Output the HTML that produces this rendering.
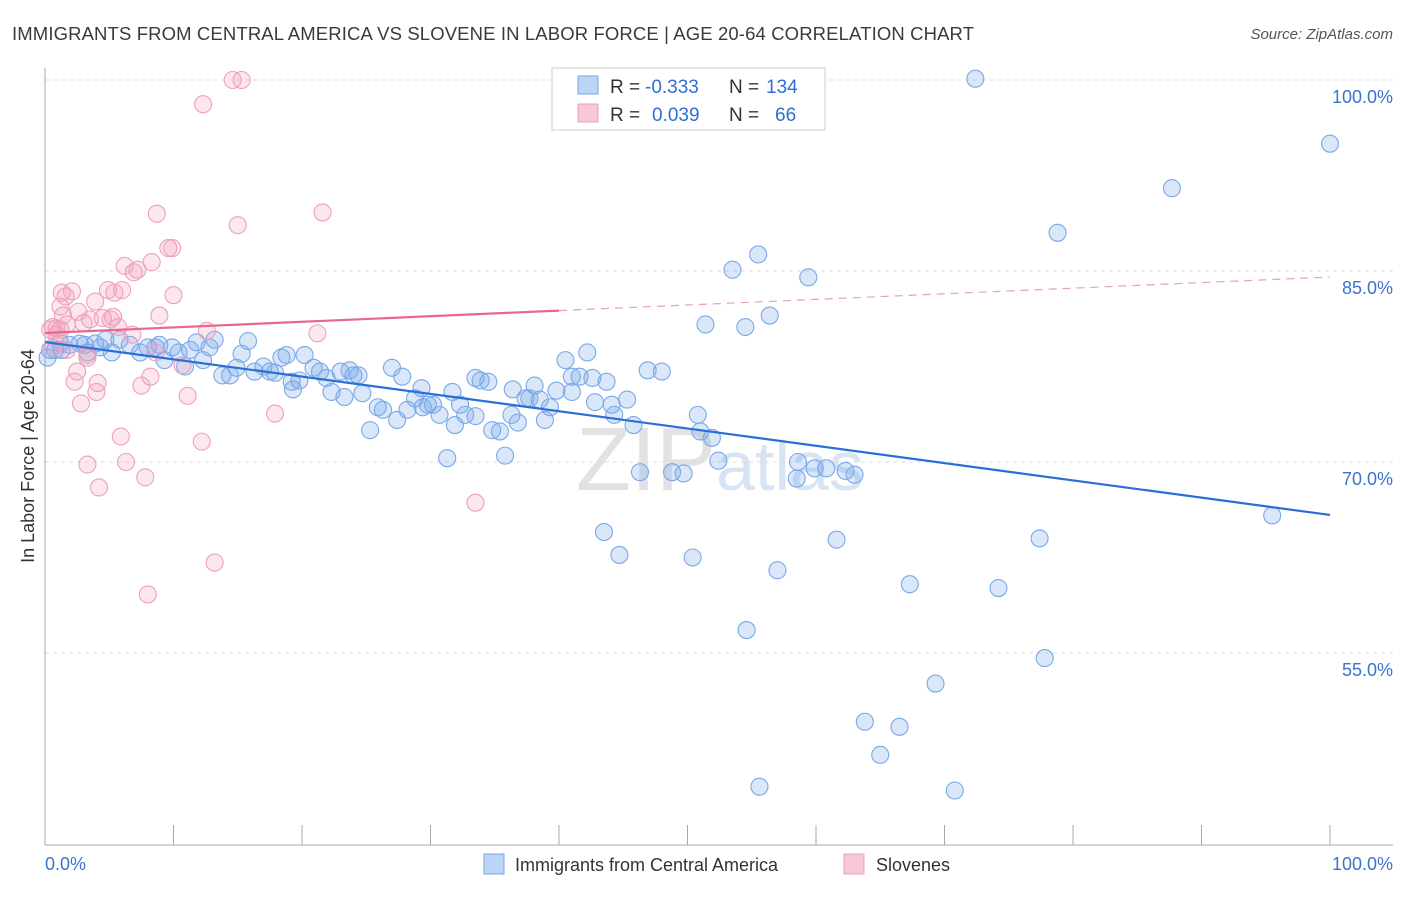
<!DOCTYPE html>
<html><head><meta charset="utf-8"><style>
body{margin:0;background:#fff;font-family:"Liberation Sans",sans-serif;}
svg text{font-family:"Liberation Sans",sans-serif;}
</style></head><body>
<svg id="chart" width="1406" height="892">
<text x="12" y="40" font-size="18.5" fill="#3a3a3a" textLength="962" lengthAdjust="spacing">IMMIGRANTS FROM CENTRAL AMERICA VS SLOVENE IN LABOR FORCE | AGE 20-64 CORRELATION CHART</text>
<text x="1393" y="39" font-size="15" fill="#555" font-style="italic" text-anchor="end">Source: ZipAtlas.com</text>
<text x="720" y="490" font-size="90" fill="#ddd" text-anchor="middle" font-family="Liberation Serif"><tspan fill="#e2e2e2">ZIP</tspan><tspan fill="#d7e4f3" font-family="Liberation Sans" font-size="70">atlas</tspan></text>
<g id="grid"></g><g id="axes"></g><g id="points"></g><g id="trends"></g>
<text transform="translate(34,456) rotate(-90)" font-size="18" fill="#333" text-anchor="middle">In Labor Force | Age 20-64</text>
<g>
<rect x="552" y="68" width="273" height="62" fill="#fff" stroke="#ccc"/>
<rect x="578" y="76" width="20" height="18" fill="#bcd5f5" stroke="#7aa8e8"/>
<rect x="578" y="104" width="20" height="18" fill="#f8c8d7" stroke="#eea0ba"/>
<text x="610" y="93" font-size="19" fill="#333">R =</text>
<text x="645" y="93" font-size="19" fill="#2f6fd0">-0.333</text>
<text x="729" y="93" font-size="19" fill="#333">N =</text>
<text x="766" y="93" font-size="19" fill="#2f6fd0">134</text>
<text x="610" y="121" font-size="19" fill="#333">R =</text>
<text x="652" y="121" font-size="19" fill="#2f6fd0">0.039</text>
<text x="729" y="121" font-size="19" fill="#333">N =</text>
<text x="775" y="121" font-size="19" fill="#2f6fd0">66</text>
</g>
<g>
<rect x="484" y="854" width="20" height="20" fill="#bcd5f5" stroke="#7aa8e8"/>
<text x="515" y="871" font-size="18" fill="#333">Immigrants from Central America</text>
<rect x="844" y="854" width="20" height="20" fill="#f8c8d7" stroke="#eea0ba"/>
<text x="876" y="871" font-size="18" fill="#333">Slovenes</text>
</g>
</svg>
<script>
const yTicks=[100,85,70,55];
const yTickLabels=["100.0%","85.0%","70.0%","55.0%"];
const xTickLabels=["0.0%","100.0%"];
const blueX=[0.2,0.8,1.3,1.9,2.7,3.3,3.9,4.7,5.2,5.8,6.6,7.4,8.0,8.6,8.9,9.3,9.9,10.4,10.9,11.3,11.8,12.3,12.8,13.2,13.8,14.4,14.9,15.3,15.8,16.3,17.0,17.5,17.9,18.4,18.8,19.3,19.8,20.2,20.9,21.4,21.9,22.3,23.0,23.3,24.0,24.4,24.7,25.3,25.9,26.3,27.0,27.4,27.8,28.2,28.8,29.3,29.8,30.2,30.7,31.3,31.7,32.3,32.7,33.5,33.9,34.5,34.8,35.4,35.8,36.3,36.8,37.4,37.7,38.1,38.5,38.9,39.3,39.8,40.5,41.0,41.6,42.2,42.8,43.5,43.7,44.3,44.7,45.3,45.8,46.3,46.9,48.0,48.8,49.7,50.4,50.8,51.0,51.9,51.4,52.4,53.5,54.5,54.6,55.5,55.6,56.4,57.0,58.6,58.5,59.4,59.9,60.8,61.6,62.3,63.0,63.8,65.0,66.5,67.3,69.3,70.8,72.4,74.2,77.4,77.8,78.8,87.7,95.5,100.0,48.2,0.4,1.2,3.1,4.3,19.2,23.7,29.4,31.9,33.5,36.4,41.0,42.6,44.1];
const blueY=[78.2,78.8,78.8,79.2,79.3,78.6,79.3,79.6,78.6,79.6,79.2,78.6,79.0,79.0,79.2,78.0,79.0,78.6,77.5,78.8,79.4,78.0,79.0,79.6,76.8,76.8,77.4,78.5,79.5,77.1,77.5,77.1,77.0,78.2,78.4,75.7,76.4,78.4,77.4,77.1,76.6,75.5,77.1,75.1,76.8,76.8,75.4,72.5,74.3,74.1,77.4,73.3,76.7,74.1,75.0,75.8,74.5,74.5,73.7,70.3,75.5,74.5,73.7,76.6,76.4,76.3,72.5,72.4,70.5,73.7,73.1,75.0,75.0,76.0,74.9,73.3,74.3,75.6,78.0,76.7,76.7,78.6,74.7,64.5,76.3,73.7,62.7,74.9,72.9,69.2,77.2,77.1,69.2,69.1,62.5,73.7,72.4,71.9,80.8,70.1,85.1,80.6,56.8,86.3,44.5,81.5,61.5,70.0,68.7,84.5,69.5,69.5,63.9,69.3,69.0,49.6,47.0,49.2,60.4,52.6,44.2,100.1,60.1,64.0,54.6,88.0,91.5,65.8,95.0,100.1,78.8,79.3,79.2,79.0,76.3,77.2,74.3,72.9,73.6,75.7,75.5,76.6,74.5];
const pinkX=[14.6,15.3,12.3,8.7,15.0,21.6,9.6,9.9,6.2,6.9,7.2,8.3,10.0,1.3,2.1,1.6,1.2,3.9,4.9,5.4,6.0,8.9,2.6,1.4,0.6,0.4,0.9,1.7,3.0,3.5,4.5,5.1,5.3,5.7,6.8,12.6,21.2,0.6,1.7,3.3,3.3,8.6,10.7,2.5,2.3,4.1,4.0,7.5,8.2,11.1,2.8,17.9,5.9,12.2,3.3,6.3,7.8,4.2,33.5,13.2,8.0,0.9,1.2];
const pinkY=[100.0,100.0,98.1,89.5,88.6,89.6,86.8,86.8,85.4,84.9,85.1,85.7,83.1,83.3,83.4,83.0,82.2,82.6,83.5,83.3,83.5,81.5,81.8,81.5,80.6,80.4,80.5,80.8,80.9,81.2,81.3,81.2,81.4,80.6,80.0,80.3,80.1,79.0,78.8,78.4,78.2,78.6,77.6,77.1,76.3,76.2,75.5,76.0,76.7,75.2,74.6,73.8,72.0,71.6,69.8,70.0,68.8,68.0,66.8,62.1,59.6,80.0,80.4];
const blueTrend=[79.42,65.84];
const pinkTrend=[80.13,84.53];
const NS="http://www.w3.org/2000/svg";
const X=v=>45+v*12.85;
const Y=v=>80+(100-v)*12.733;
function mk(tag,attrs,parent){const e=document.createElementNS(NS,tag);for(const k in attrs)e.setAttribute(k,attrs[k]);document.getElementById(parent).appendChild(e);return e;}
yTicks.forEach((t,i)=>{
 const l=mk('line',{x1:45,x2:1393,y1:Y(t),y2:Y(t),stroke:'#ddd','stroke-dasharray':'4,4'},'grid');
 
 
 const tx=mk('text',{x:1393,y:Y(t)+23,'font-size':18,fill:'#3b73d1','text-anchor':'end'},'grid');
 tx.textContent=yTickLabels[i];
 
 
});
const ya=mk('line',{x1:45,x2:45,y1:68,y2:845,stroke:'#aaa'},'axes');


const xa=mk('line',{x1:45,x2:1393,y1:845,y2:845,stroke:'#aaa'},'axes');


for(let i=1;i<=10;i++){const t=mk('line',{x1:X(i*10),x2:X(i*10),y1:825,y2:845,stroke:'#aaa'},'axes');
 
 }
[[0,'start',45],[100,'end',1393]].forEach((d,i)=>{const t=mk('text',{x:d[2],y:870,'font-size':18,fill:'#3b73d1','text-anchor':d[1]},'axes');t.textContent=xTickLabels[i];
 
 });
blueX.forEach((x,i)=>{const c=mk('circle',{cx:X(x),cy:Y(blueY[i]),r:8.5,fill:'rgba(120,170,235,0.28)',stroke:'#7aa8e8','stroke-width':1.1},'points');
 
 });
pinkX.forEach((x,i)=>{const c=mk('circle',{cx:X(x),cy:Y(pinkY[i]),r:8.5,fill:'rgba(242,160,188,0.25)',stroke:'#eea0ba','stroke-width':1.1},'points');
 
 });
const bt=mk('line',{x1:X(0),y1:Y(blueTrend[0]),x2:X(100),y2:Y(blueTrend[1]),stroke:'#2a6fd6','stroke-width':2.2},'trends');


const pm=pinkTrend[0]+(pinkTrend[1]-pinkTrend[0])*0.4;
const ps=mk('line',{x1:X(0),y1:Y(pinkTrend[0]),x2:X(40),y2:Y(pm),stroke:'#e8668f','stroke-width':2.2},'trends');


const pd=mk('line',{x1:X(40),y1:Y(pm),x2:X(100),y2:Y(pinkTrend[1]),stroke:'#e8a0b8','stroke-width':1.2,'stroke-dasharray':'8,6'},'trends');


</script>
</body></html>
